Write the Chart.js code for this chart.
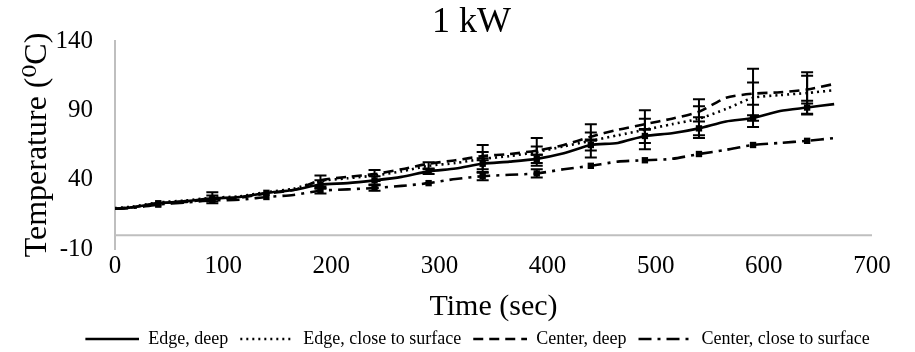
<!DOCTYPE html>
<html>
<head>
<meta charset="utf-8">
<script src="https://cdn.jsdelivr.net/npm/chart.js@4"></script>
<style>
  html, body { margin: 0; padding: 0; background: #fff; }
  #wrap { width: 915px; height: 352px; }
</style>
</head>
<body>
<div id="wrap"><canvas id="grafico"></canvas></div>
<script>
// tiempos de lectura (s) y temperaturas (C)
const times = [0, 15, 40, 65, 90, 115, 140, 165, 190, 215, 240, 265, 290, 315, 340, 365, 390, 415, 440, 465, 490, 515, 540, 565, 590, 615, 640, 665];
const edgeDeep = [19, 20, 23, 24.5, 26.5, 27.5, 30.5, 32.5, 36.5, 37.5, 39.5, 42, 46, 48, 51.5, 53, 55, 59, 65, 66.5, 71.5, 73.5, 77, 82, 84.5, 89.5, 92, 94.5];
const edgeSurface = [19.5, 20.5, 23.5, 25, 27, 28, 31, 33.5, 39, 41, 43, 46, 50, 52, 55, 57, 60, 64, 68, 72, 76, 80, 84, 91, 99, 101, 102.5, 104.5];
const centerDeep = [19, 20, 23, 24, 26, 27, 30, 32.5, 39.5, 42, 44, 47.5, 51.5, 54, 57, 58.5, 61, 65, 71, 76, 80, 84, 89, 99, 102, 103, 105, 109];
const centerSurface = [19, 19.5, 22, 23.5, 25, 25.5, 27.5, 29, 32, 33, 34, 35.5, 37.5, 40.5, 42.5, 43.5, 44.5, 47.5, 50, 53, 54, 55, 58.5, 61.5, 65, 66.5, 68, 70];

// desviaciones en los puntos medidos (t = 40, 90, ... 640)
const edgeDeepErr = [0, 2, 0, 3, 3, 2, 4, 3, 4, 5, 5, 2, 5];
const edgeSurfaceErr = [0, 4, 0, 4, 4, 2.5, 10, 10, 12, 14, 14, 21, 15];
const centerDeepErr = [0, 0, 0, 0, 0, 0, 3, 3, 3, 4, 4, 8, 10];
const centerSurfaceErr = [0, 0, 0, 2, 2, 0, 3, 3, 0, 0, 0, 0, 0];

const xTicks = [0, 100, 200, 300, 400, 500, 600, 700];
const yTicks = [-10, 40, 90, 140];

const serif = "'Liberation Serif', 'DejaVu Serif', serif";
const esMedida = i => i > 0 && i % 2 === 0;

function serie(label, valores, errores, dash, marcas) {
    return {
        label: label,
        data: times.map((t, i) => ({ x: t, y: valores[i] })),
        errores: errores,
        borderColor: "#000",
        backgroundColor: "#000",
        borderWidth: 2.6,
        borderDash: dash,
        tension: 0.25,
        pointStyle: "rect",
        pointRadius: ctx => (marcas && esMedida(ctx.dataIndex)) ? 4.5 : 0,
        pointBorderWidth: 0
    };
}

// muestra de trazo para la leyenda, pegada a la derecha del hueco
const ANCHO_MUESTRA = 66;
function muestra(dash) {
    const c = document.createElement("canvas");
    c.width = ANCHO_MUESTRA;
    c.height = 6;
    const g = c.getContext("2d");
    g.strokeStyle = "#000";
    g.lineWidth = 2.4;
    g.setLineDash(dash);
    g.beginPath();
    g.moveTo(ANCHO_MUESTRA - 54, 3);
    g.lineTo(ANCHO_MUESTRA, 3);
    g.stroke();
    return c;
}

// linea del eje en y = 0 y barras de error
const extras = {
    id: "extras",
    beforeDatasetsDraw(chart) {
        const { ctx, chartArea, scales: { y } } = chart;
        const y0 = y.getPixelForValue(0);
        ctx.save();
        ctx.strokeStyle = "#bfbfbf";
        ctx.lineWidth = 2;
        ctx.beginPath();
        ctx.moveTo(chartArea.left, y0);
        ctx.lineTo(chartArea.right, y0);
        ctx.stroke();
        ctx.restore();
    },
    afterDatasetsDraw(chart) {
        const { ctx, scales: { x, y } } = chart;
        ctx.save();
        ctx.strokeStyle = "#000";
        ctx.lineWidth = 2;
        chart.data.datasets.forEach(ds => {
            let k = 0;
            ds.data.forEach((p, i) => {
                if (!esMedida(i)) return;
                const e = ds.errores[k++];
                if (!e) return;
                const px = x.getPixelForValue(p.x);
                const top = y.getPixelForValue(p.y + e);
                const bot = y.getPixelForValue(p.y - e);
                ctx.beginPath();
                ctx.moveTo(px, top); ctx.lineTo(px, bot);
                ctx.moveTo(px - 6, top); ctx.lineTo(px + 6, top);
                ctx.moveTo(px - 6, bot); ctx.lineTo(px + 6, bot);
                ctx.stroke();
            });
        });
        ctx.restore();
    }
};

const grafico = new Chart(document.getElementById("grafico"), {
    type: "line",
    data: {
        datasets: [
            serie("Edge, deep", edgeDeep, edgeDeepErr, [], true),
            serie("Edge, close to surface", edgeSurface, edgeSurfaceErr, [2, 4], false),
            serie("Center, deep", centerDeep, centerDeepErr, [10, 6], false),
            serie("Center, close to surface", centerSurface, centerSurfaceErr, [13, 6, 3, 6], true)
        ]
    },
    options: {
        responsive: true,
        maintainAspectRatio: false,
        animation: false,
        layout: { padding: { left: 28, right: 0, top: 0, bottom: -6 } },
        plugins: {
            title: {
                display: true,
                text: "1 kW",
                color: "#000",
                font: { family: serif, size: 36, weight: "normal", lineHeight: 1 },
                padding: { top: 5, bottom: 0 }
            },
            legend: {
                position: "bottom",
                labels: {
                    color: "#000",
                    font: { family: serif, size: 18 },
                    usePointStyle: true,
                    pointStyleWidth: ANCHO_MUESTRA,
                    padding: 0,
                    generateLabels: chart => chart.data.datasets.map((ds, i) => ({
                        text: ds.label,
                        fillStyle: "#000",
                        strokeStyle: "#000",
                        fontColor: "#000",
                        lineWidth: 0,
                        pointStyle: muestra(ds.borderDash),
                        hidden: false,
                        datasetIndex: i
                    }))
                }
            },
            tooltip: { enabled: false }
        },
        scales: {
            x: {
                type: "linear",
                min: 0,
                max: 700,
                afterBuildTicks: s => { s.ticks = xTicks.map(v => ({ value: v })); },
                grid: { display: false, drawTicks: false },
                border: { display: false },
                ticks: { color: "#000", font: { family: serif, size: 25 }, padding: 2, maxRotation: 0 },
                title: {
                    display: true,
                    text: "Time (sec)",
                    color: "#000",
                    font: { family: serif, size: 30 },
                    padding: { top: 0, bottom: 5 }
                },
                afterFit: s => { s.height = 81; }
            },
            y: {
                min: -10,
                max: 140,
                afterBuildTicks: s => { s.ticks = yTicks.map(v => ({ value: v })); },
                grid: { display: false, drawTicks: false },
                border: { display: true, color: "#bfbfbf", width: 2 },
                ticks: { color: "#000", font: { family: serif, size: 25 }, padding: 22 },
                title: {
                    display: true,
                    text: "Temperature (\u2070C)",
                    color: "#000",
                    font: { family: serif, size: 32, lineHeight: 1 },
                    padding: { top: -6, bottom: 0 }
                },
                afterFit: s => { s.width = 87; }
            },
            y2: {
                position: "right",
                display: true,
                grid: { display: false, drawTicks: false },
                border: { display: false },
                ticks: { display: false },
                afterFit: s => { s.width = 43; }
            }
        }
    },
    plugins: [extras]
});
</script>
</body>
</html>
